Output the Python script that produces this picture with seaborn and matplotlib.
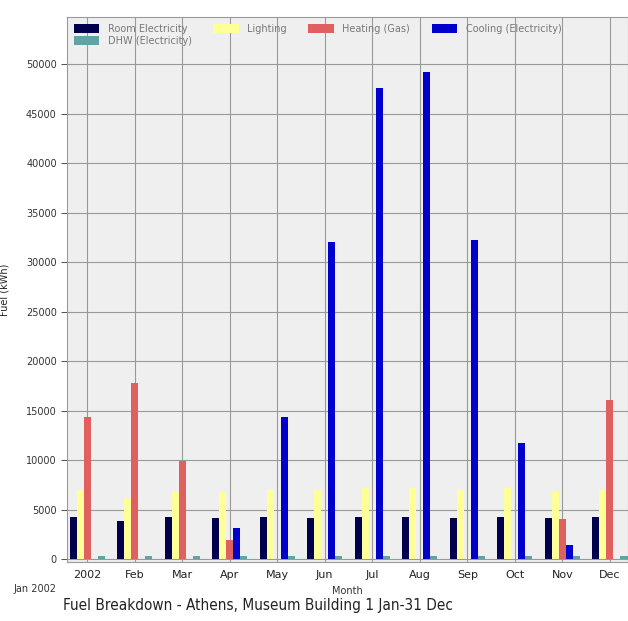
import numpy as np
import pandas as pd
import matplotlib
matplotlib.use("Agg")
import matplotlib.pyplot as plt
import seaborn as sns

months = ["2002", "Feb", "Mar", "Apr", "May", "Jun", "Jul", "Aug", "Sep", "Oct", "Nov", "Dec"]
series = ["Room Electricity", "Lighting", "Heating (Gas)", "Cooling (Electricity)", "DHW (Electricity)"]

room_electricity = [4200, 3800, 4200, 4100, 4200, 4100, 4200, 4200, 4100, 4200, 4100, 4200]
lighting = [7000, 6200, 6800, 6800, 7000, 7000, 7200, 7200, 7000, 7200, 6800, 7000]
heating_gas = [14400, 17800, 9900, 1900, 0, 0, 0, 0, 0, 0, 4000, 16100]
cooling_elec = [0, 0, 0, 3100, 14400, 32000, 47600, 49200, 32200, 11700, 1400, 0]
dhw_elec = [350, 300, 350, 300, 300, 300, 300, 300, 300, 300, 300, 350]

colors = ["#00004d", "#ffff99", "#e06060", "#0000cc", "#5fa3a3"]

df = pd.DataFrame({
    "Month": months * 5,
    "Series": np.repeat(series, len(months)),
    "Fuel": room_electricity + lighting + heating_gas + cooling_elec + dhw_elec,
})

sns.set_theme(style="whitegrid")
plt.rcParams["font.family"] = ["DejaVu Sans"]

fig = plt.figure(figsize=(6.28, 6.21), dpi=100)
ax = fig.add_axes([0.107, 0.095, 0.893, 0.878])
ax.set_facecolor("#efefef")

sns.barplot(data=df, x="Month", y="Fuel", hue="Series", hue_order=series,
            order=months, palette=colors, width=0.74, saturation=1,
            edgecolor="none", linewidth=0, ax=ax, errorbar=None)

ax.set_ylim(-300, 54800)
ax.set_xlim(-0.42, 11.38)
ax.set_yticks(np.arange(0, 50001, 5000))
ax.tick_params(axis="y", labelsize=7, colors="#333333", length=4, left=True, width=0.6)
ax.tick_params(axis="x", labelsize=8, colors="#222222", length=0, pad=6)
ax.grid(True, color="#999999", linewidth=0.8)
ax.set_axisbelow(True)
for s in ax.spines.values():
    s.set_color("#9a9a9a")
    s.set_linewidth(0.8)

ax.set_xlabel("Month", fontsize=7, color="#333333", labelpad=4)
ax.set_ylabel("Fuel (kWh)", fontsize=7, color="#222222", labelpad=12)

# legend filled row by row: four entries on the first row, DHW below
handles, labels = ax.get_legend_handles_labels()
idx = [0, 4, 1, 2, 3]
leg = ax.legend([handles[i] for i in idx], [labels[i] for i in idx],
                loc="upper left", bbox_to_anchor=(0.0, 1.0), ncol=4, fontsize=7,
                frameon=False, handlelength=2.6, handleheight=1.0,
                columnspacing=2.2, handletextpad=0.9, labelspacing=0.25,
                borderaxespad=0.3)
for t in leg.get_texts():
    t.set_color("#777777")

fig.text(0.056, 0.046, "Jan 2002", fontsize=7, color="#333333", ha="center")
fig.text(0.1, 0.018, "Fuel Breakdown - Athens, Museum Building 1 Jan-31 Dec",
         fontsize=11, color="#222222", family="DejaVu Sans", fontstretch="condensed")

fig.savefig("out.png", dpi=100, facecolor="white")
